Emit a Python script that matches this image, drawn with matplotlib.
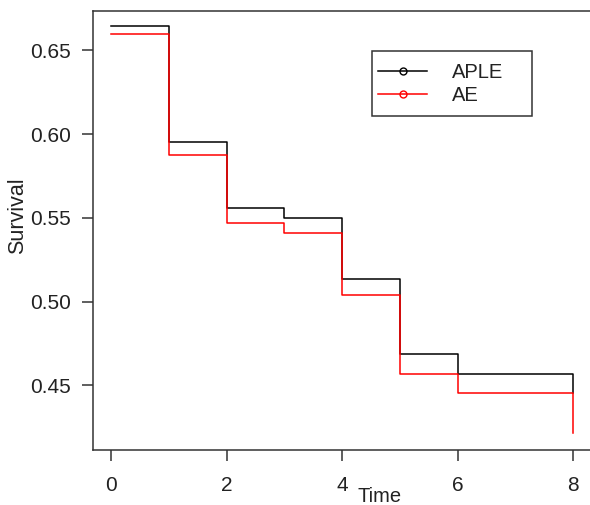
import matplotlib
matplotlib.use("Agg")
import matplotlib.pyplot as plt
from matplotlib.lines import Line2D
from matplotlib.patches import Rectangle

plt.rcParams['font.family'] = ['Liberation Sans', 'DejaVu Sans']

# survival estimates at each time point (step function, post)
times = [0, 1, 2, 3, 4, 5, 6, 7, 8]
aple = [0.6643, 0.5952, 0.5557, 0.5498, 0.5134, 0.4687, 0.4568, 0.4568, 0.4455]
ae = [0.6600, 0.5878, 0.5470, 0.5408, 0.5040, 0.4568, 0.4455, 0.4455, 0.4216]
series_names = ['APLE', 'AE']
series_colors = ['black', '#FF0000']
xticks = [0, 2, 4, 6, 8]
yticks = [0.45, 0.50, 0.55, 0.60, 0.65]

W, H = 590, 505
fig = plt.figure(figsize=(W / 100, H / 100), dpi=100)
ax = fig.add_axes([92.7 / W, (H - 450) / H, (591.8 - 92.7) / W, (450 - 10.7) / H])

# the final step drops at t=8
ax.step(times, aple, where='post', color=series_colors[0], lw=1.1)
ax.step(times, ae, where='post', color=series_colors[1], lw=1.1)

ax.set_xlim(-0.32, 8.32)
ax.set_ylim(0.4113, 0.6737)
ax.set_xticks(xticks)
ax.set_xticklabels([str(t) for t in xticks])
ax.set_yticks(yticks)
ax.set_yticklabels(['%.2f' % v for v in yticks])

for sp in ax.spines.values():
    sp.set_color('#333333')
    sp.set_linewidth(1.1)
ax.tick_params(axis='both', colors='#333333', labelcolor='#222222',
               labelsize=15, length=8, width=1.1)
ax.tick_params(axis='x', pad=11)
ax.tick_params(axis='y', pad=7.5)

fig.text(18 / W, 1 - 216 / H, 'Survival', rotation=90, ha='center', va='center',
         fontsize=15.5, color='#222222')
fig.text(380 / W, 1 - 497 / H, 'Time', ha='center', va='center',
         fontsize=14.5, color='#222222')

handles = [Line2D([], [], color=c, lw=1.1, marker='o', markersize=5,
                  markerfacecolor='none', markeredgecolor=c)
           for c in series_colors]
leg = ax.legend(handles, series_names, loc='center left',
                bbox_to_anchor=(372 / W, 1 - 84 / H),
                bbox_transform=fig.transFigure, frameon=False, fontsize=14.5,
                handlelength=2.45, handletextpad=1.2, labelspacing=0.2,
                borderpad=0.3, borderaxespad=0)
for t in leg.get_texts():
    t.set_color('#222222')

fig.patches.append(Rectangle((371.7 / W, 1 - 116 / H), (532.3 - 371.7) / W,
                             (116 - 50.7) / H, transform=fig.transFigure,
                             fill=False, edgecolor='#333333', lw=1.1))

fig.savefig('out.png', dpi=100)
